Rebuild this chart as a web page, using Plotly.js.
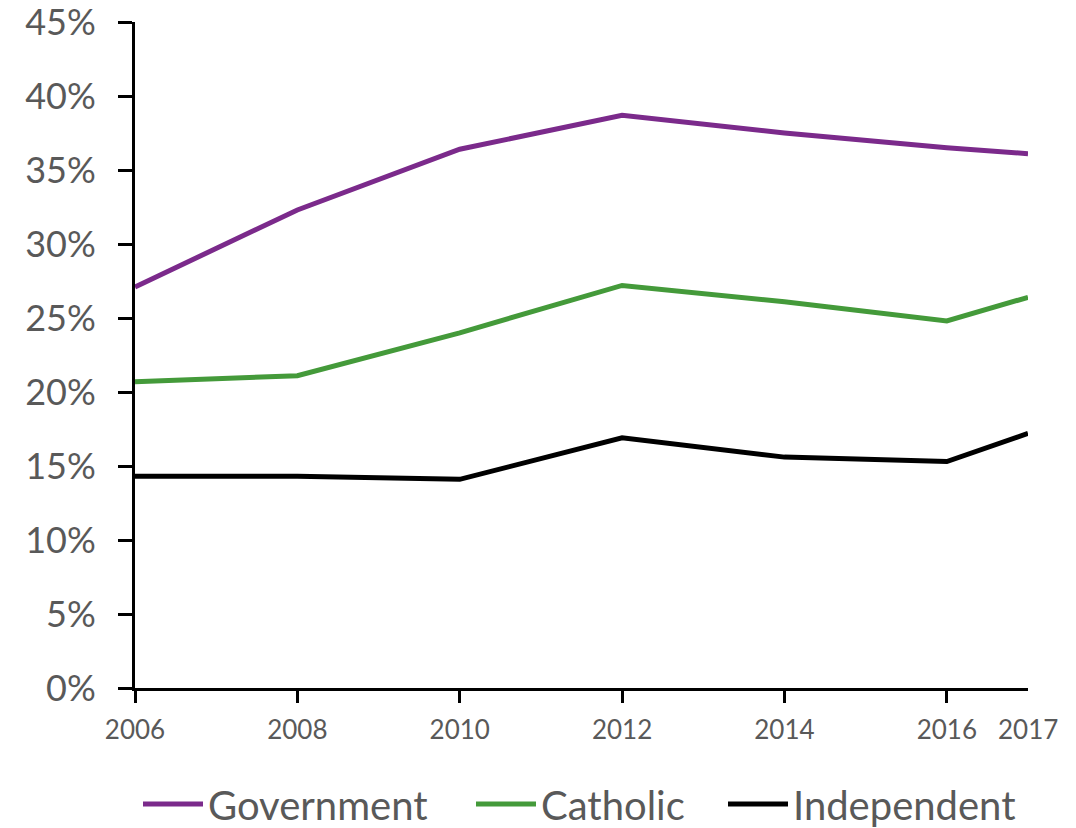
<!DOCTYPE html>
<html><head><meta charset="utf-8">
<script src="https://cdn.plot.ly/plotly-3.0.1.min.js"></script>
<style>html,body{margin:0;padding:0;background:#fff}#chart{width:1076px;height:828px}</style>
</head><body><div id="chart"></div>
<script>
const years = [2006, 2008, 2010, 2012, 2014, 2016, 2017];
const government = [27.1, 32.3, 36.4, 38.7, 37.5, 36.5, 36.1];
const catholic = [20.7, 21.1, 24.0, 27.2, 26.1, 24.8, 26.4];
const independent = [14.3, 14.3, 14.1, 16.9, 15.6, 15.3, 17.2];
const xTickVals = [2006, 2008, 2010, 2012, 2014, 2016];
const yTickVals = [0, 5, 10, 15, 20, 25, 30, 35, 40, 45];

const font = "Lato, 'Open Sans', sans-serif";
const grey = '#595959';
const mk = (name, y, color, lg) => ({x: years, y: y, name: name, type: 'scatter', mode: 'lines',
  line: {color: color, width: 5}, legend: lg});
const data = [
  mk('Government', government, '#7B2A8B', 'legend'),
  mk('Catholic', catholic, '#449A3A', 'legend2'),
  mk('Independent', independent, '#000000', 'legend3')
];
const lg = (x) => ({orientation: 'h', xref: 'container', yref: 'container', x: x, xanchor: 'left',
  y: 24 / 828, yanchor: 'middle', bgcolor: 'rgba(0,0,0,0)', borderwidth: 0, itemwidth: 60,
  font: {family: font, size: 40, color: grey}});
const layout = {
  width: 1076, height: 828,
  margin: {l: 135, r: 48, t: 22, b: 140, autoexpand: false},
  paper_bgcolor: '#fff', plot_bgcolor: '#fff',
  showlegend: true,
  legend: lg(138 / 1076),
  legend2: lg(471 / 1076),
  legend3: lg(723 / 1076),
  xaxis: {range: [2006, 2017], tickvals: xTickVals, ticktext: xTickVals.map(String),
    automargin: false, ticklabeloverflow: 'allow',
    showgrid: false, zeroline: false, showline: true, linecolor: '#000', linewidth: 3,
    ticks: 'outside', ticklen: 12, tickwidth: 3, tickcolor: '#000', ticklabelstandoff: 5,
    tickfont: {family: font, size: 26, color: grey}},
  yaxis: {range: [0, 45.0001], tickvals: yTickVals, ticktext: yTickVals.map(v => v + '%'),
    automargin: false, ticklabeloverflow: 'allow',
    showgrid: false, zeroline: false, showline: true, linecolor: '#000', linewidth: 3,
    ticks: 'outside', ticklen: 14, tickwidth: 3, tickcolor: '#000', ticklabelstandoff: 15,
    tickfont: {family: font, size: 36, color: grey}},
  annotations: [{x: 2017, xref: 'x', y: 0, yref: 'paper', yshift: -23, yanchor: 'top',
    text: '2017', showarrow: false, font: {family: font, size: 26, color: grey}}]
};
Plotly.newPlot('chart', data, layout, {displayModeBar: false});
</script></body></html>
